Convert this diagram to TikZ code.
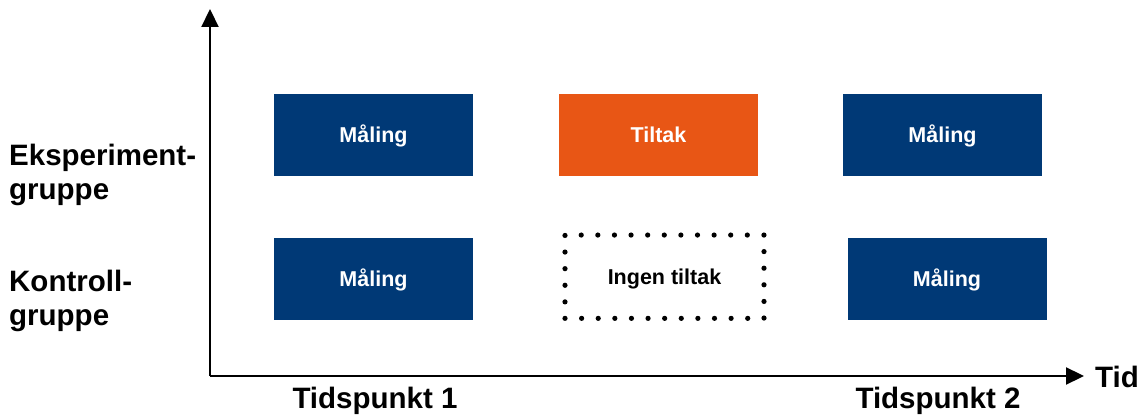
\documentclass[tikz,border=0pt]{standalone}
\usepackage{fontspec}
\setmainfont{Liberation Sans}
\usetikzlibrary{arrows.meta}
\definecolor{navy}{RGB}{0,57,118}
\definecolor{signal}{RGB}{232,86,21}
\tikzset{
  boxtext/.style={font=\fontsize{21.5}{24}\selectfont\bfseries,
    text height=15pt, text depth=0pt},
  block/.style={boxtext, fill=navy, text=white, minimum width=199pt,
    minimum height=82pt, inner sep=0pt},
  actblock/.style={block, fill=signal},
  emptyblock/.style={boxtext, draw=black, line width=5.2pt, line cap=round,
    dash pattern=on 0pt off 16.61pt, minimum width=199pt, minimum height=83.3pt,
    inner sep=0pt},
  grouplabel/.style={anchor=north west, align=left, inner sep=0pt,
    font=\fontsize{29.5}{34}\selectfont\bfseries},
  timelabel/.style={inner sep=0pt, font=\fontsize{29.5}{34}\selectfont\bfseries},
  axis/.style={line width=2.2pt, -{Triangle[length=18pt,width=17pt]}}
}
\begin{document}
\begin{tikzpicture}[x=1pt,y=-1pt]
\useasboundingbox (0,0) rectangle (1142,419);

% axes
\coordinate (origin) at (210,376);
\coordinate (ytop) at (210,9);
\coordinate (xend) at (1084,376);
\draw[axis] (origin) -- (ytop);
\draw[axis] (origin) -- (xend);

% experiment group
\node[block]    (e1) at (373.5,135) {Måling};
\node[actblock] (e2) at (658.5,135) {Tiltak};
\node[block]    (e3) at (942.5,135) {Måling};

% control group
\node[block]      (k1) at (373.5,279) {Måling};
\node[emptyblock] (k2) at (664.5,276.7) {Ingen tiltak};
\node[block]      (k3) at (947,279) {Måling};

% row labels
\node[grouplabel] (lexp) at (9,143.5) {Eksperiment-\\gruppe};
\node[grouplabel] (lkon) at (9,269.5) {Kontroll-\\gruppe};

% time labels
\node[timelabel, anchor=base] (t1) at (375,408.5) {Tidspunkt 1};
\node[timelabel, anchor=base] (t2) at (938,408.5) {Tidspunkt 2};
\node[timelabel, anchor=base west] (tid) at (1095,387.5) {Tid};
\end{tikzpicture}
\end{document}
